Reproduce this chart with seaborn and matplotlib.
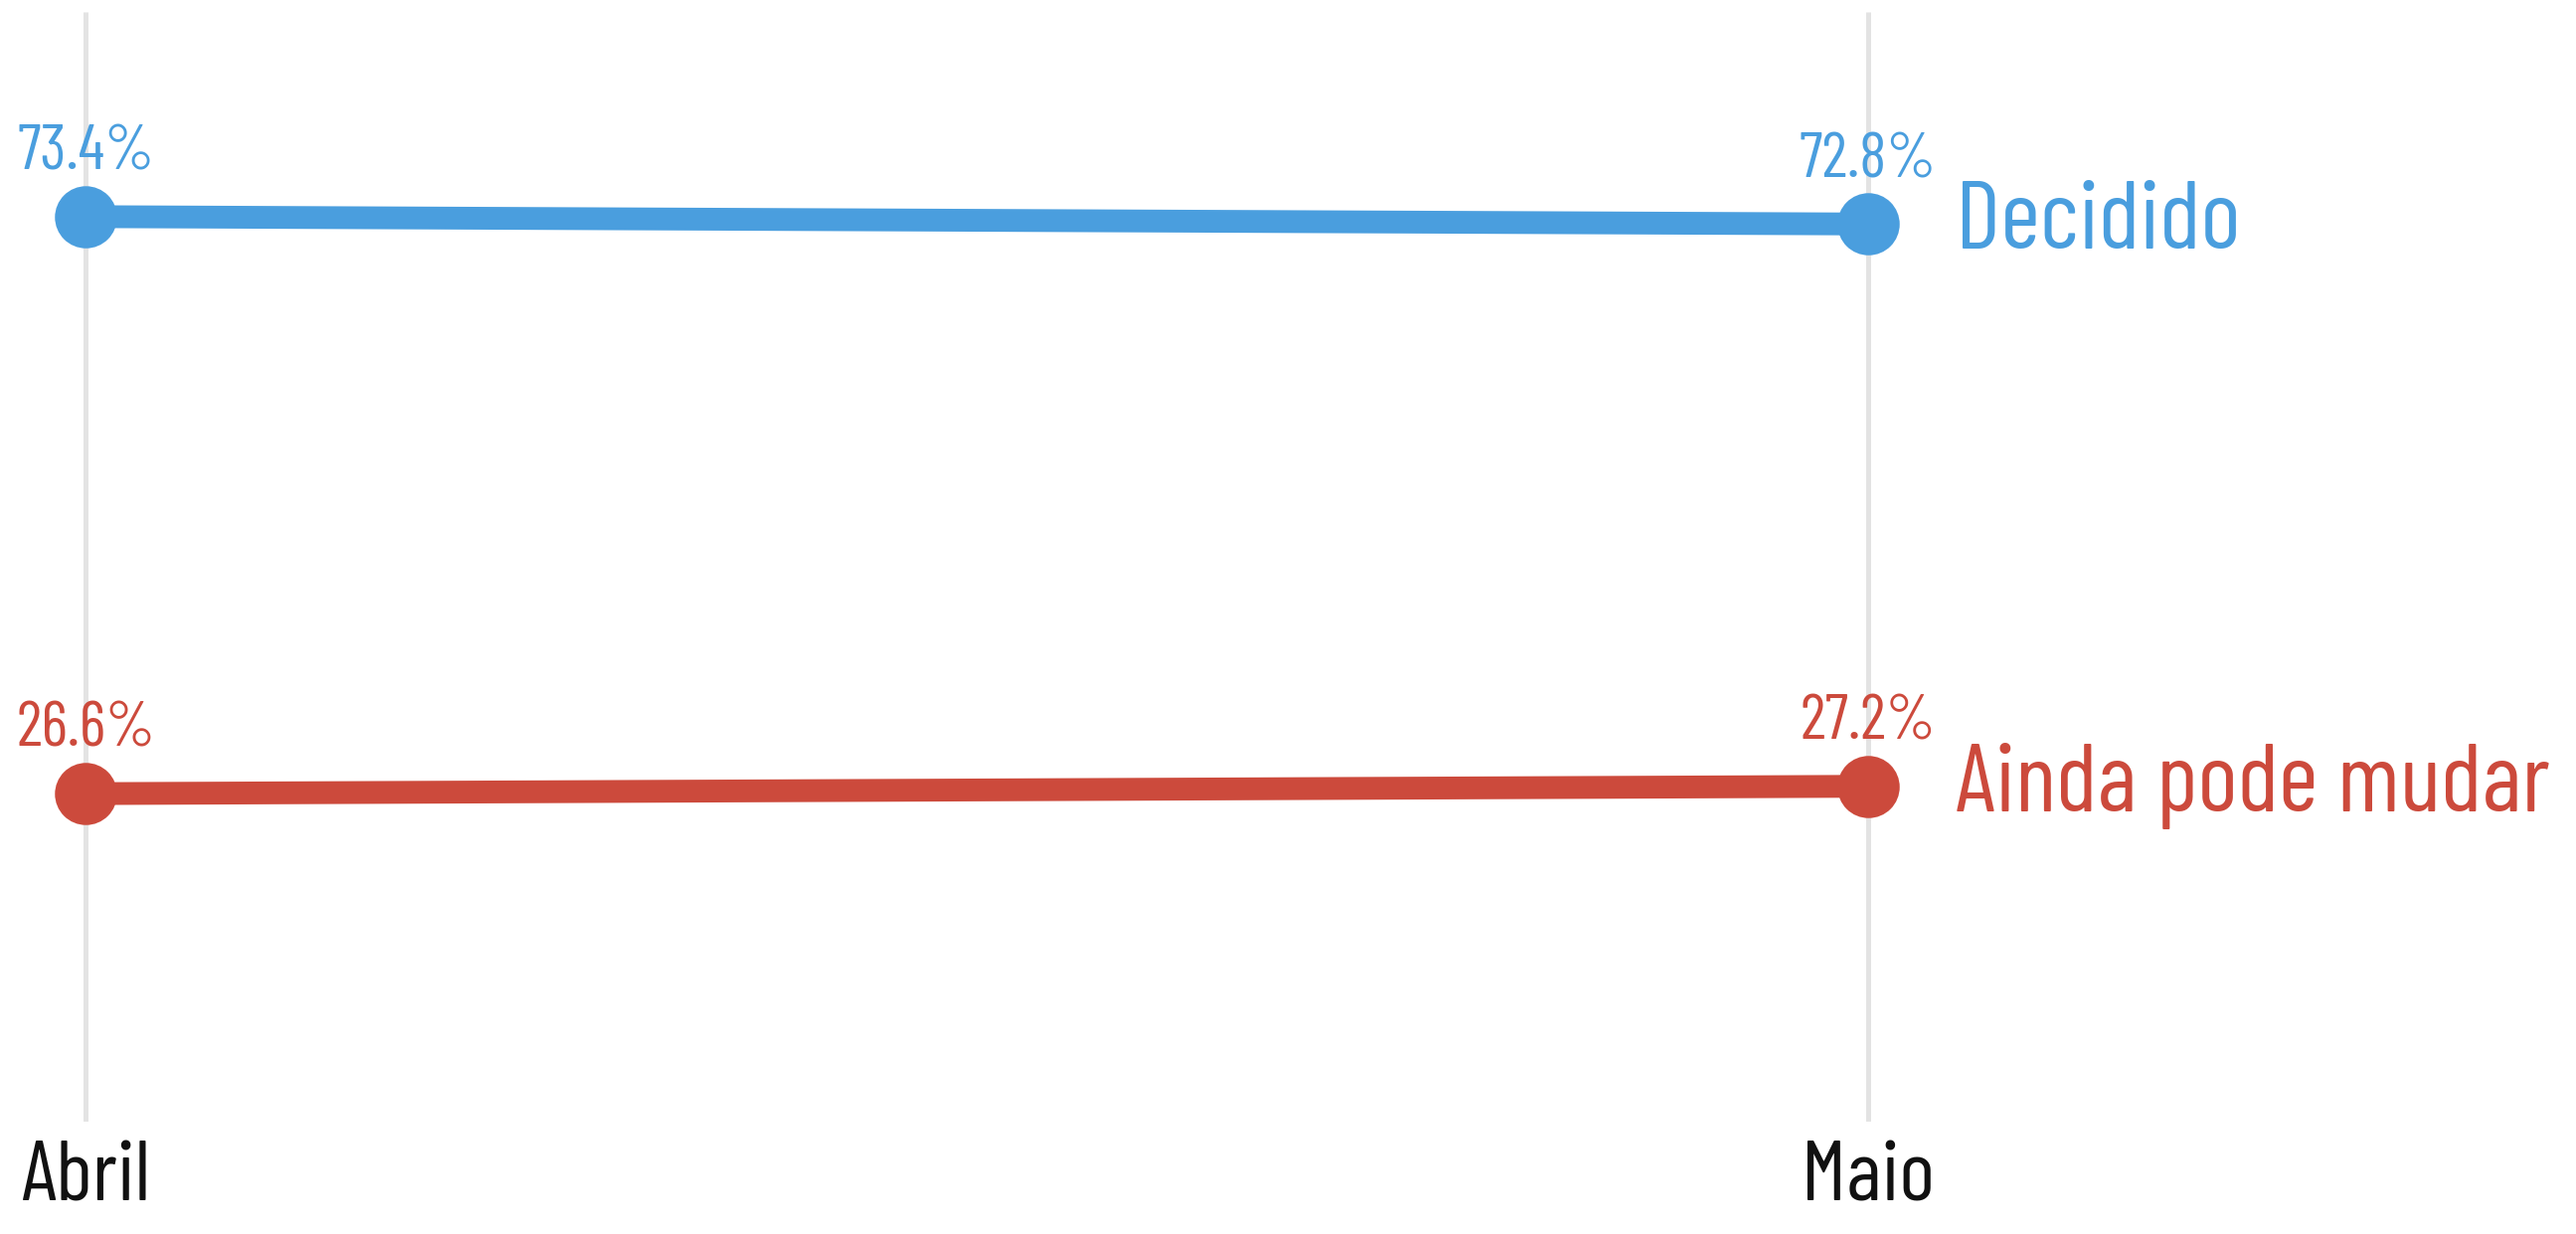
import matplotlib
matplotlib.use("Agg")
import matplotlib.pyplot as plt
import seaborn as sns
import pandas as pd

months = ["Abril", "Maio"]
decidido = [73.4, 72.8]
ainda = [26.6, 27.2]
series_names = ["Decidido", "Ainda pode mudar"]
colors = {"Decidido": "#4A9EDE", "Ainda pode mudar": "#CC4A3C"}

sns.set_style("white")
FONT = ["Barlow Condensed", "Roboto Condensed", "DejaVu Sans"]
plt.rcParams["font.family"] = FONT

df = pd.DataFrame({
    "mes": months * 2,
    "valor": decidido + ainda,
    "serie": [series_names[0]] * 2 + [series_names[1]] * 2,
})

W, H = 2591, 1241
fig = plt.figure(figsize=(W / 100, H / 100), dpi=100)
left_px, right_px = 86, 1879
unit = right_px - left_px
top_px, bot_px = 12, 1128
ax = fig.add_axes([0, (H - bot_px) / H, 1, (bot_px - top_px) / H])

sns.lineplot(data=df, x="mes", y="valor", hue="serie", palette=colors,
             marker="o", markersize=45, linewidth=16.5, markeredgewidth=0,
             legend=False, ax=ax, zorder=3)
for ln in ax.lines:
    ln.set_solid_capstyle("butt")
    ln.set_clip_on(False)

ax.set_xlim(-left_px / unit, (W - left_px) / unit)
ax.set_ylim(0, 90)

for xi in range(len(months)):
    ax.plot([xi, xi], [0, 90], color="#E3E3E3", lw=3.6, zorder=1,
            solid_capstyle="butt")

ax.set_xticks(range(len(months)))
ax.set_xticklabels(months, fontsize=62, color="#111111")
ax.tick_params(axis="x", length=0, pad=14)
ax.set_yticks([])
ax.set_xlabel("")
ax.set_ylabel("")
for s in ax.spines.values():
    s.set_visible(False)

for name, vals in zip(series_names, [decidido, ainda]):
    c = colors[name]
    for xi, v in enumerate(vals):
        ax.annotate(f"{v:.1f}%", (xi, v), xytext=(0, 34), textcoords="offset points",
                    ha="center", va="baseline", fontsize=46, color=c)
    ax.annotate(name, (len(vals) - 1, vals[-1]), xytext=(63, 0),
                textcoords="offset points", ha="left", va="center",
                fontsize=70, color=c)

fig.savefig("out.png", dpi=100, facecolor="white")
